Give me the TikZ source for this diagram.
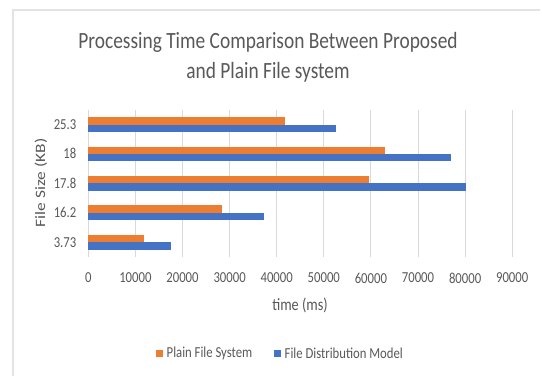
\documentclass[tikz,border=0pt]{standalone}
\usepackage{fontspec}
\usepackage{graphicx}
\setmainfont{Carlito}
\definecolor{plainor}{HTML}{ED7D31}
\definecolor{fdmblue}{HTML}{4472C4}
\definecolor{gridg}{HTML}{D9D9D9}
\definecolor{txtg}{HTML}{595959}
\definecolor{frameg}{HTML}{E3E3E3}
\newcommand{\tallt}[1]{\scalebox{1}[1.2]{#1}}
\newcommand{\longt}[1]{\scalebox{1.22}[1]{#1}}
\begin{document}
\begin{tikzpicture}[x=1pt,y=-1pt,
  ticklbl/.style={text=txtg,font=\fontsize{12.7}{14}\selectfont,inner sep=0pt},
  axislbl/.style={text=txtg,font=\fontsize{14.3}{16}\selectfont,inner sep=0pt},
  titlelbl/.style={text=txtg,font=\fontsize{19.4}{23}\selectfont,inner sep=0pt},
  gridline/.style={draw=gridg,line width=1pt},
  orbar/.style={fill=plainor},
  bluebar/.style={fill=fdmblue}]
\useasboundingbox (0,0) rectangle (542,376);
\fill[white] (0,0) rectangle (542,376);
% chart frame
\draw[frameg,line width=1.3pt] (13,376) -- (13,10) -- (540,10);
% title
\node[titlelbl] (title1) at (268,42.5) {\tallt{Processing Time Comparison Between Proposed}};
\node[titlelbl] (title2) at (268,72.5) {\tallt{and Plain File system}};
% gridlines and tick labels
\foreach \k/\t in {0/0,1/10000,2/20000,3/30000,4/40000,5/50000,6/60000,7/70000,8/80000,9/90000}{
  \draw[gridline] (88.3+\k*47.1,110) -- (88.3+\k*47.1,256.5);
  \node[ticklbl] (xt\k) at (88.3+\k*47.1,278) {\tallt{\t}};
}
% bars (values in thousands of ms)
\foreach \c/\o/\b/\lab [count=\i] in {124.6/41.8/52.6/25.3, 153.8/63.0/77.0/18, 183.3/59.7/80.2/17.8, 212.7/28.3/37.4/16.2, 242.3/11.9/17.5/3.73}{
  \fill[orbar] (88.3,\c-7.3) rectangle (88.3+\o*4.71,\c);
  \fill[bluebar] (88.3,\c) rectangle (88.3+\b*4.71,\c+7.3);
  \node[ticklbl,anchor=east] (yl\i) at (76.5,\c) {\tallt{\lab}};
}
% axis titles
\node[axislbl] (xtitle) at (300,305) {\tallt{time (ms)}};
\node[axislbl,rotate=90] (ytitle) at (41,183) {\longt{File Size (KB)}};
% legend
\fill[plainor] (156,349.5) rectangle (162.5,356.5);
\node[ticklbl,anchor=west] (leg1) at (166.5,353) {\tallt{Plain File System}};
\fill[fdmblue] (274,349.5) rectangle (280.5,356.5);
\node[ticklbl,anchor=west] (leg2) at (284.5,353) {\tallt{File Distribution Model}};
\end{tikzpicture}
\end{document}
